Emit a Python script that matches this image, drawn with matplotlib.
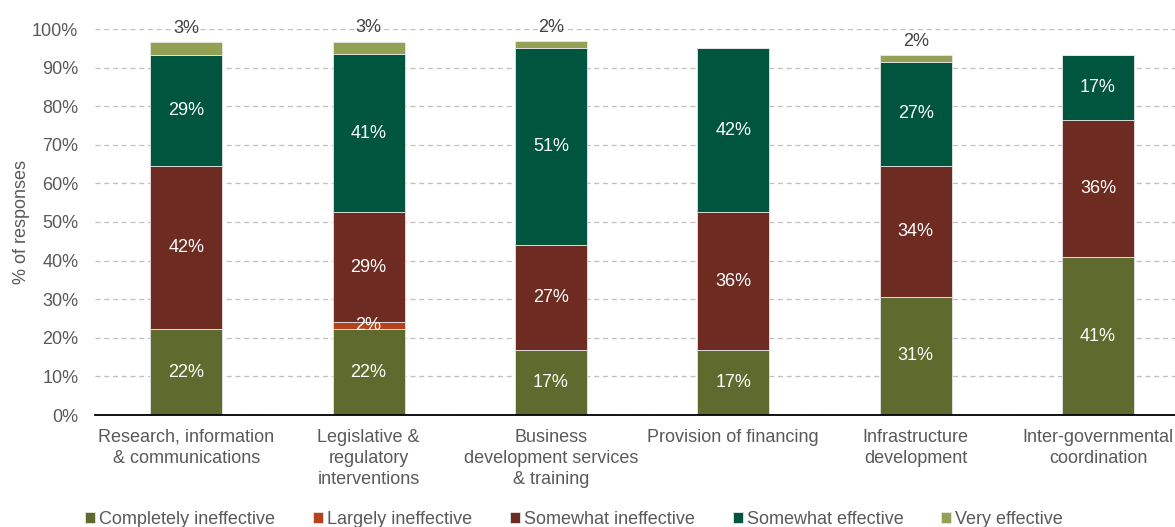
import matplotlib.pyplot as plt
import numpy as np

plt.rcParams['font.family'] = ['Liberation Sans', 'DejaVu Sans']

# categories on the x axis
categories = [
    "Research, information\n& communications",
    "Legislative &\nregulatory\ninterventions",
    "Business\ndevelopment services\n& training",
    "Provision of financing",
    "Infrastructure\ndevelopment",
    "Inter-governmental\ncoordination",
]

# % of responses per rating
completely_ineffective = [22.2, 22.2, 16.8, 16.8, 30.6, 40.9]
largely_ineffective = [0, 1.8, 0, 0, 0, 0]
somewhat_ineffective = [42.3, 28.6, 27.2, 35.8, 33.9, 35.6]
somewhat_effective = [28.8, 40.8, 51.1, 42.4, 27.0, 16.7]
very_effective = [3.3, 3.3, 1.7, 0, 1.7, 0]

series = [
    ("Completely ineffective", completely_ineffective, "#5f6a2e"),
    ("Largely ineffective", largely_ineffective, "#b5421b"),
    ("Somewhat ineffective", somewhat_ineffective, "#6d2b22"),
    ("Somewhat effective", somewhat_effective, "#00553e"),
    ("Very effective", very_effective, "#93a154"),
]

FS = 13

fig = plt.figure(figsize=(11.75, 5.27), dpi=100)
ax = fig.add_axes([95 / 1175, 112 / 527, 1080 / 1175, 386 / 527])

x = np.arange(len(categories))
width = 0.395
bottom = np.zeros(len(categories))

for name, vals, color in series:
    vals = np.array(vals, dtype=float)
    ax.bar(x, vals, width, bottom=bottom, color=color, label=name,
           edgecolor="#e6e6e6", linewidth=0.6, zorder=3)
    for i, v in enumerate(vals):
        if v <= 0:
            continue
        if name == "Very effective":
            ax.annotate(f"{v:.0f}%", (x[i], bottom[i] + v), xytext=(0, 4),
                        textcoords="offset points", ha="center", va="bottom",
                        fontsize=FS, color="#404040", annotation_clip=False)
        else:
            ax.text(x[i], bottom[i] + v / 2, f"{v:.0f}%", ha="center", va="center",
                    fontsize=FS, color="white", zorder=4)
    bottom += vals

ax.set_ylim(0, 100)
ax.set_xlim(-0.5, (1175 - 186) / 182.4)
ax.set_yticks(np.arange(0, 101, 10))
ax.set_yticklabels([f"{t}%" for t in range(0, 101, 10)])
ax.set_xticks(x)
ax.set_xticklabels(categories, linespacing=1.3)
ax.tick_params(axis="both", length=0, labelsize=FS, labelcolor="#595959")
ax.tick_params(axis="y", pad=12)
ax.tick_params(axis="x", pad=10)

ax.yaxis.grid(True, linestyle=(0, (4, 3)), color="#bfbfbf", linewidth=0.9, zorder=0)
ax.set_axisbelow(True)
for s in ["top", "right", "left"]:
    ax.spines[s].set_visible(False)
ax.spines["bottom"].set_color("black")
ax.spines["bottom"].set_linewidth(1.3)
ax.spines["bottom"].set_zorder(5)

ax.set_ylabel("% of responses", fontsize=FS, color="#595959", labelpad=1.5)

fig.legend(loc="lower center", bbox_to_anchor=(574 / 1175, -0.033), ncol=5,
           frameon=False, fontsize=FS, handlelength=0.55, handleheight=0.55,
           handletextpad=0.22, columnspacing=2.1, labelcolor="#595959")

fig.savefig("out.png", dpi=100)
